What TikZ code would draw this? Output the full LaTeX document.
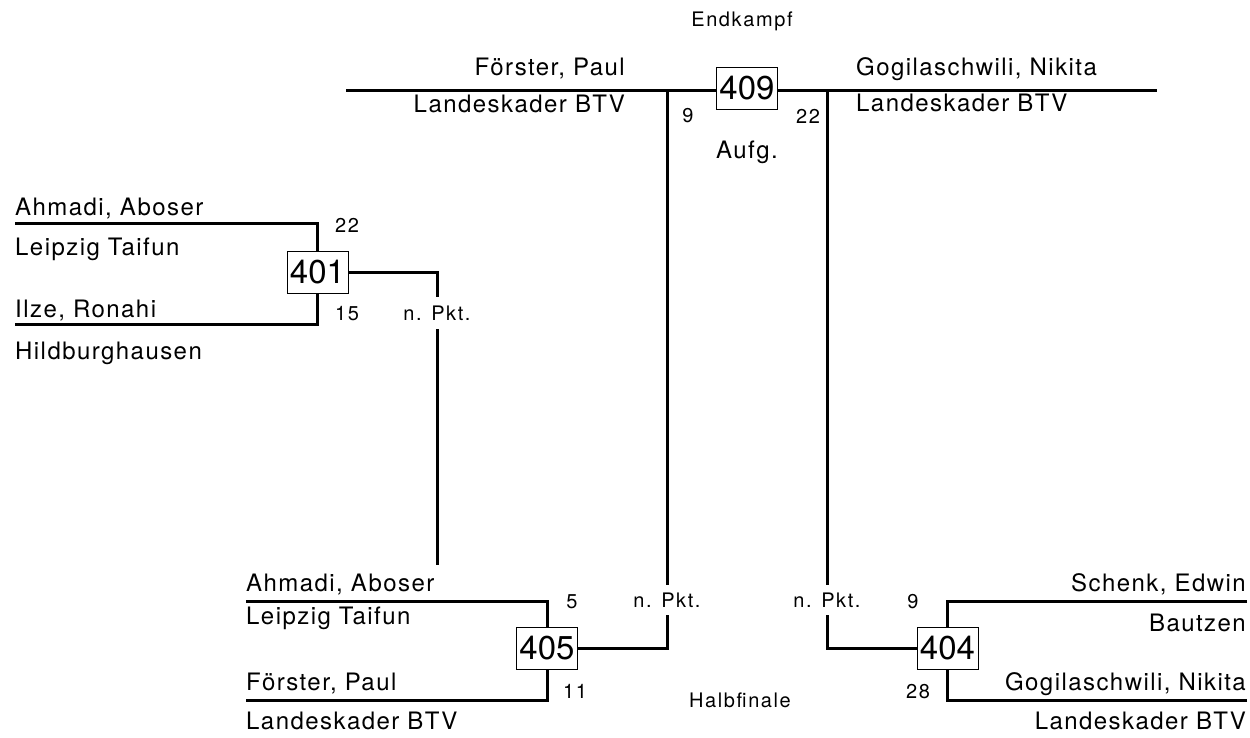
\documentclass[tikz,border=0pt]{standalone}
\usepackage{fontspec}
\setmainfont{TeX Gyre Heros}
\newfontfamily\namefont[LetterSpace=6]{TeX Gyre Heros}
\newfontfamily\smallfont[LetterSpace=8]{TeX Gyre Heros}
\begin{document}
\begin{tikzpicture}[x=1pt, y=-1pt,
        player/.style={font=\namefont\fontsize{24}{28}\selectfont, inner sep=0pt},
        note/.style={font=\smallfont\fontsize{20}{23}\selectfont, inner sep=0pt},
        match/.style={draw, line width=1pt, fill=white, minimum width=61pt, minimum height=42pt,
            inner sep=0pt, font=\fontsize{33}{37}\selectfont},
        bar/.style={line width=3pt}]
    \useasboundingbox (0,0) rectangle (1250,737);
    % Endkampf
    \coordinate (fl) at (346,90);
    \coordinate (fr) at (1157,90);
    \draw[bar] (fl) -- (fr);
    \node[match] (m409) at (747,88) {409};
    \node[note] (endkampf) at (742,21) {Endkampf};
    \node[player, anchor=base east] (f1name) at (625,75) {Förster, Paul};
    \node[player, anchor=base east] (f1club) at (625,112) {Landeskader BTV};
    \node[player, anchor=base west] (f2name) at (856,75) {Gogilaschwili, Nikita};
    \node[player, anchor=base west] (f2club) at (856,111) {Landeskader BTV};
    \node[note] (s409a) at (688,116) {9};
    \node[note] (s409b) at (808,116) {22};
    \node[player] (aufg) at (747,152) {Aufg.};
    % Begegnung 401
    \coordinate (a401) at (15,223);
    \coordinate (c401) at (15,324);
    \node[match] (m401) at (317.5,272) {401};
    \draw[bar] (a401) -| (m401.north);
    \draw[bar] (c401) -| (m401.south);
    \node[player, anchor=base west] (n401a) at (15,215) {Ahmadi, Aboser};
    \node[player, anchor=base west] (v401a) at (15,255) {Leipzig Taifun};
    \node[player, anchor=base west] (n401b) at (15,317) {Ilze, Ronahi};
    \node[player, anchor=base west] (v401b) at (15,359) {Hildburghausen};
    \node[note] (s401a) at (347,225) {22};
    \node[note] (s401b) at (347,314) {15};
    \node[note, minimum height=32pt] (p401) at (437,313) {n. Pkt.};
    \coordinate (e401) at (437,565);
    \draw[bar] (m401.east) -| (p401.north);
    \draw[bar] (p401.south) -- (e401);
    % Begegnung 405
    \coordinate (a405) at (246,601);
    \coordinate (c405) at (246,700);
    \node[match] (m405) at (547,648) {405};
    \draw[bar] (a405) -| (m405.north);
    \draw[bar] (c405) -| (m405.south);
    \node[player, anchor=base west] (n405a) at (246,591) {Ahmadi, Aboser};
    \node[player, anchor=base west] (v405a) at (246,624) {Leipzig Taifun};
    \node[player, anchor=base west] (n405b) at (246,690) {Förster, Paul};
    \node[player, anchor=base west] (v405b) at (246,729) {Landeskader BTV};
    \node[note] (s405a) at (572,602) {5};
    \node[note] (s405b) at (575,691) {11};
    \node[note, minimum height=30pt] (p405) at (667,600) {n. Pkt.};
    \draw[bar] (p405.north |- fl) -- (p405.north);
    \draw[bar] (p405.south) |- (m405.east);
    % Begegnung 404
    \coordinate (a404) at (1247,601);
    \coordinate (c404) at (1247,700);
    \node[match] (m404) at (947.5,648) {404};
    \draw[bar] (a404) -| (m404.north);
    \draw[bar] (c404) -| (m404.south);
    \node[player, anchor=base east] (n404a) at (1246,591) {Schenk, Edwin};
    \node[player, anchor=base east] (v404a) at (1246,631) {Bautzen};
    \node[player, anchor=base east] (n404b) at (1246,690) {Gogilaschwili, Nikita};
    \node[player, anchor=base east] (v404b) at (1246,729) {Landeskader BTV};
    \node[note] (s404a) at (913,602) {9};
    \node[note] (s404b) at (918,692) {28};
    \node[note, minimum height=30pt] (p404) at (827,600) {n. Pkt.};
    \draw[bar] (p404.north |- fr) -- (p404.north);
    \draw[bar] (p404.south) |- (m404.west);
    \node[note] (halbfinale) at (740,700) {Halbfinale};
\end{tikzpicture}
\end{document}
